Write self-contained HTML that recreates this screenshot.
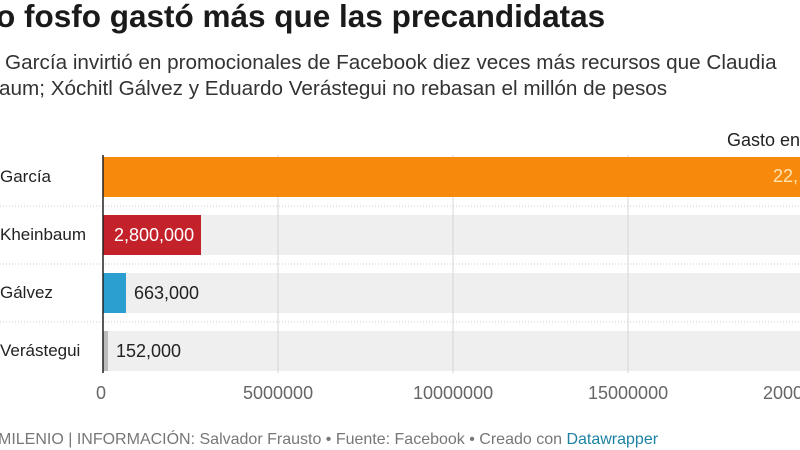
<!DOCTYPE html>
<html><head><meta charset="utf-8"><style>
html,body{margin:0;width:800px;height:450px;overflow:hidden}
body{background:#fff;font-family:"Liberation Sans",sans-serif;position:relative;color:#222}
.a{position:absolute;white-space:nowrap}
</style></head><body>
<div class="a" style="left:-4px;top:-2px;font-size:31.5px;font-weight:bold;color:#1a1a1a">o fosfo gastó más que las precandidatas</div>
<div class="a" style="left:5px;top:50px;font-size:20.7px;line-height:26px;color:#333"><span>García invirtió en promocionales de Facebook diez veces más recursos que Claudia</span><br><span style="margin-left:-6px">aum; Xóchitl Gálvez y Eduardo Verástegui no rebasan el millón de pesos</span></div>
<div class="a" style="left:727px;top:130px;font-size:18px;color:#222">Gasto en</div>
<svg class="a" style="left:0;top:0" width="800" height="450">
<rect x="103" y="215" width="697" height="40" fill="#efefef"/>
<rect x="103" y="273" width="697" height="40" fill="#efefef"/>
<rect x="103" y="331" width="697" height="40" fill="#efefef"/>
<g stroke="#d6d6d6" stroke-width="1"><line x1="278" y1="155" x2="278" y2="373"/><line x1="453" y1="155" x2="453" y2="373"/><line x1="628" y1="155" x2="628" y2="373"/></g>
<g stroke="#ccc" stroke-dasharray="1,2"><line x1="0" y1="206" x2="800" y2="206"/><line x1="0" y1="264" x2="800" y2="264"/><line x1="0" y1="322" x2="800" y2="322"/></g>
<rect x="103" y="157" width="697" height="40" fill="#f78a0d"/>
<rect x="103" y="215" width="98" height="40" fill="#c4222a"/>
<rect x="103" y="273" width="23" height="40" fill="#2a9fd0"/>
<rect x="103" y="331" width="5" height="40" fill="#bbb"/>
<line x1="103" y1="155" x2="103" y2="373" stroke="#222" stroke-width="1.5"/>
</svg>
<div class="a" style="left:0;top:167px;font-size:17px">García</div>
<div class="a" style="left:0;top:225px;font-size:17px">Kheinbaum</div>
<div class="a" style="left:0;top:283px;font-size:17px">Gálvez</div>
<div class="a" style="left:0;top:341px;font-size:17px">Verástegui</div>
<div class="a" style="left:773px;top:166px;font-size:18px;color:#fde3b0">22,</div>
<div class="a" style="left:114px;top:225px;font-size:18px;color:#fff">2,800,000</div>
<div class="a" style="left:134px;top:283px;font-size:18px">663,000</div>
<div class="a" style="left:116px;top:341px;font-size:18px">152,000</div>
<div class="a" style="left:96px;top:383px;font-size:18px;color:#666">0</div>
<div class="a" style="left:243px;top:383px;font-size:18px;color:#666">5000000</div>
<div class="a" style="left:413px;top:383px;font-size:18px;color:#666">10000000</div>
<div class="a" style="left:588px;top:383px;font-size:18px;color:#666">15000000</div>
<div class="a" style="left:763px;top:383px;font-size:18px;color:#666">20000000</div>
<div class="a" style="left:-2px;top:431px;font-size:16px;color:#777">MILENIO | INFORMACIÓN: Salvador Frausto • Fuente: Facebook • Creado con <span style="color:#1d81a2">Datawrapper</span></div>
</body></html>
